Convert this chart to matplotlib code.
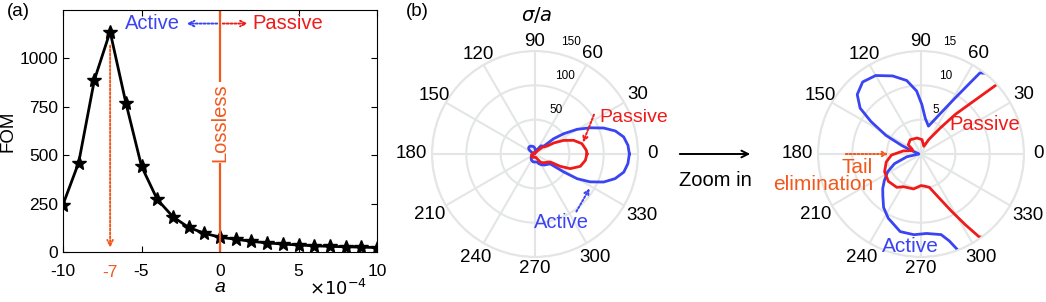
import matplotlib
matplotlib.use("Agg")
import matplotlib.pyplot as plt
import matplotlib.patches as mpatches
import numpy as np

plt.rcParams['font.family'] = ['Liberation Sans', 'DejaVu Sans']
plt.rcParams['axes.unicode_minus'] = False

# --- data (a): FOM versus loss parameter (x 1e-4)
loss = [-10, -9, -8, -7, -6, -5, -4, -3, -2, -1, 0, 1, 2, 3, 4, 5, 6, 7, 8, 9, 10]
fom = [245, 462, 889, 1138, 772, 443, 272, 182, 127, 97, 76, 66, 55, 47, 41, 36, 32, 29, 27, 25, 23]
xticks_a = [-10, -5, 0, 5, 10]
yticks_a = [0, 250, 500, 750, 1000]

# --- data (b): sigma/a patterns (angle in degrees, radius)
active_deg = [0, 5.3, 10.9, 16, 20.7, 25.4, 30.4, 35.3, 39.4, 41.5, 46, 50, 54, 56, 59, 64, 75,
              83, 89, 94, 101, 110, 120, 129, 137, 143, 147, 152, 156, 160, 168, 180, 191,
              200, 208, 216, 222, 228, 235, 243, 255, 265, 274, 284, 288, 291, 300, 310,
              318, 324, 327, 328, 329.6, 333.2, 337.8, 342.9, 348.5, 354.1, 360]
active_r = [137.4, 136, 131.5, 121.7, 107, 89, 71, 51, 35, 18, 16, 15.3, 14.6, 11.9, 9.3, 6.7, 4.2,
            5.2, 7.2, 9.2, 10.9, 12.1, 13.2, 13.5, 12.7, 11.1, 8.7, 5.8, 3.1, 1.5, 0.5, 0.3, 2.1,
            4.1, 5.5, 6.6, 7.5, 8.3, 9.5, 10.5, 11.7, 11.8, 11.6, 12.1, 13.3, 15, 18, 21,
            23, 25, 26.4, 49, 71, 90, 108, 122, 132, 136, 137.4]
passive_deg = [0, 4.1, 12.4, 19.5, 25.5, 30.5, 33, 37, 42.5, 45, 49, 53.5, 62, 70, 86, 104, 127,
               144, 151, 158, 170, 182, 193, 206, 220, 234, 242, 258, 270, 276, 284, 291,
               298, 302, 305, 312, 320, 328, 332.5, 334, 337.5, 344.8, 352.8, 360]
passive_r = [75.7, 75, 70, 59.7, 46, 31.6, 22, 17.5, 15, 11, 7.7, 4.7, 2.35, 1.2, 2.1, 2.4, 2.6,
             2.3, 1.5, 1.3, 2.6, 4.3, 5.2, 5.9, 6.2, 6.0, 5.4, 5.2, 4.6, 4.7, 5.0, 6.5,
             9.4, 12.1, 14.7, 17, 19.5, 22, 25.2, 41, 55.7, 68.4, 73.9, 75.7]
theta_ticks = list(range(0, 360, 30))
full_rings = [50, 100, 150]
zoom_rings = [5, 10, 15]

# where the angle labels sit, as a multiple of the outer radius
theta_lab_frac = [1.145, 1.155, 1.125, 1.09, 1.11, 1.13, 1.2, 1.18, 1.155, 1.11, 1.165, 1.2]

blue = '#3a44f2'
red = '#f01a1a'
orange = '#f2581c'
gridc = '#e4e6e6'

W, H = 1046, 302
def fx(px):
    return px / W
def fy(py):
    return 1 - py / H

def dotted_arrow(p0, p1, color, scale=8):
    fig.add_artist(mpatches.FancyArrowPatch(
        (fx(p0[0]), fy(p0[1])), (fx(p1[0]), fy(p1[1])), transform=fig.transFigure,
        arrowstyle='->', mutation_scale=scale, ls=(0, (1, 1)), color=color, lw=1.4))

fig = plt.figure(figsize=(10.46, 3.02), dpi=100)

# ---------------- panel (a)
ax = fig.add_axes([fx(63), fy(252), 314 / W, 242 / H])
ax.plot(loss, fom, '-', color='black', lw=2, marker='*', ms=10)
ax.set_xlim(-10, 10)
ax.set_ylim(0, 1250)
ax.set_xticks(xticks_a)
ax.set_yticks(yticks_a)
ax.tick_params(direction='in', top=True, right=True, labelsize=12.5, length=4)
ax.tick_params(axis='x', pad=9)
ax.set_ylabel('FOM', fontsize=13.5, labelpad=2)
ax.set_xlabel('a', fontsize=14, style='italic', labelpad=0)
ax.text(0.968, -0.153, r'$\times10^{-4}$', transform=ax.transAxes, ha='right', va='center', fontsize=13)

ax.axvline(0, color=orange, lw=1.6)
ax.text(0, 670, 'Lossless', rotation=90, color=orange, ha='center', va='center', fontsize=14.5,
        bbox=dict(fc='white', ec='none', pad=1))
ax.annotate('', xy=(-7, 8), xytext=(-7, 1080),
            arrowprops=dict(arrowstyle='->', ls=(0, (1, 1)), color=orange, lw=1.4))
ax.text(-7, -0.083, '-7', color=orange, transform=ax.get_xaxis_transform(),
        ha='center', va='center', fontsize=12.5)

ax.text(-4.3, 1180, 'Active', color=blue, ha='center', va='center', fontsize=14.5)
ax.text(4.3, 1180, 'Passive', color=red, ha='center', va='center', fontsize=14.5)
ax.annotate('', xy=(-2.3, 1180), xytext=(0, 1180),
            arrowprops=dict(arrowstyle='->', ls=(0, (1, 1)), color=blue, lw=1.4))
ax.annotate('', xy=(1.95, 1180), xytext=(0, 1180),
            arrowprops=dict(arrowstyle='->', ls=(0, (1, 1)), color=red, lw=1.4))

fig.text(fx(18), fy(12), '(a)', ha='center', va='center', fontsize=13.5)
fig.text(fx(417), fy(12), '(b)', ha='center', va='center', fontsize=13.5)


def polar_panel(left_px, rmax, rings, ring_lab_pos):
    pax = fig.add_axes([fx(left_px), fy(257), 206 / W, 206 / H], projection='polar')
    pax.plot(np.radians(active_deg), active_r, color=blue, lw=2)
    pax.plot(np.radians(passive_deg), passive_r, color=red, lw=2)
    pax.set_rmax(rmax)
    pax.set_rmin(0)
    pax.set_rticks(rings)
    pax.set_yticklabels([])
    pax.set_thetagrids(theta_ticks, [''] * len(theta_ticks))
    pax.grid(True, color=gridc, lw=1.5)
    pax.spines['polar'].set_color(gridc)
    pax.spines['polar'].set_linewidth(1.5)
    for t, f in zip(theta_ticks, theta_lab_frac):
        pax.text(np.radians(t), rmax * f, str(t), ha='center', va='center', fontsize=13.5,
                 clip_on=False)
    for lab, (ang, rr) in zip(rings, ring_lab_pos):
        pax.text(np.radians(ang), rr, str(lab), ha='center', va='center', fontsize=8.5,
                 clip_on=False)
    return pax


p1 = polar_panel(432, 150, full_rings, [(64, 71), (69, 122), (72, 171)])
p2 = polar_panel(818, 15, zoom_rings, [(71, 6.8), (72.7, 11.9), (75.7, 16.9)])

fig.text(fx(537), fy(15), r'$\sigma/a$', ha='center', va='center', fontsize=14)

# panel (b) annotations
fig.text(fx(634), fy(117), 'Passive', color=red, ha='center', va='center', fontsize=14)
dotted_arrow((595, 112), (582, 145), red)
fig.text(fx(561), fy(223), 'Active', color=blue, ha='center', va='center', fontsize=14.5)
dotted_arrow((575, 214), (591, 186), blue)

fig.add_artist(mpatches.FancyArrowPatch(
    (fx(677), fy(154)), (fx(753), fy(154)), transform=fig.transFigure,
    arrowstyle='->', mutation_scale=12, color='black', lw=1.4))
fig.text(fx(715), fy(180), 'Zoom in', ha='center', va='center', fontsize=14.5)

fig.text(fx(985), fy(125), 'Passive', color=red, ha='center', va='center', fontsize=14.5)
fig.text(fx(910), fy(247), 'Active', color=blue, ha='center', va='center', fontsize=15)
fig.text(fx(873), fy(167), 'Tail', color=orange, ha='right', va='center', fontsize=15)
fig.text(fx(873), fy(185), 'elimination', color=orange, ha='right', va='center', fontsize=15)
dotted_arrow((843, 154), (891, 154), orange)

fig.savefig('out.png', dpi=100)
